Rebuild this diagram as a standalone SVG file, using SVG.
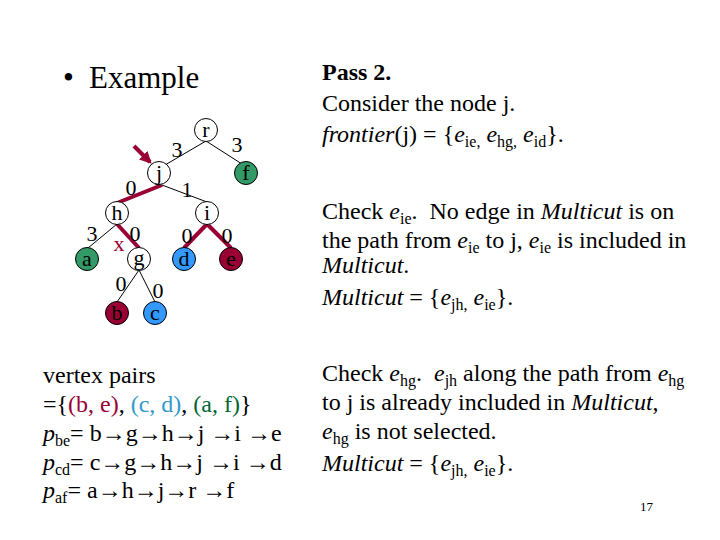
<svg xmlns="http://www.w3.org/2000/svg" width="720" height="540" viewBox="0 0 720 540">
<style>
text{font-family:"Liberation Serif","Times New Roman",serif;fill:#000}
.nl{font-size:22px;text-anchor:middle}
.el{font-size:22px;text-anchor:middle}
.t{font-size:24px}
.s{font-size:16px}
.n{fill:#fff;stroke:#000;stroke-width:1}
.g{fill:#339966}
.b{fill:#3399ff}
.m{fill:#990033}
.e{stroke:#000;stroke-width:1;fill:none}
.c{stroke:#990033;stroke-width:4;fill:none}
</style>
<defs>
<marker id="ah" viewBox="0 0 10 10" refX="8" refY="5" markerWidth="3" markerHeight="3" orient="auto"><path d="M0,0L10,5L0,10z" fill="#990033"/></marker>
</defs>
<rect width="720" height="540" fill="#fff"/>
<text x="63" y="88" style="font-size:31px">•</text>
<text x="89" y="88" style="font-size:31px">Example</text>
<g id="connectors">
<line class="e" x1="206" y1="141" x2="165" y2="165"/>
<line class="e" x1="206" y1="141" x2="242" y2="164"/>
<line class="c" x1="162" y1="185" x2="117" y2="203"/>
<line class="e" x1="162" y1="185" x2="207" y2="202"/>
<line class="e" x1="117" y1="224" x2="88" y2="248"/>
<line class="c" x1="117" y1="224" x2="139" y2="248"/>
<line class="c" x1="207" y1="224" x2="184" y2="248"/>
<line class="c" x1="207" y1="224" x2="231" y2="248"/>
<line class="e" x1="139" y1="270" x2="117" y2="302"/>
<line class="e" x1="139" y1="270" x2="155" y2="302"/>
<line x1="134" y1="146" x2="150" y2="162" stroke="#990033" stroke-width="4" marker-end="url(#ah)"/>
<text class="el" x="177" y="157">3</text>
<text class="el" x="237" y="152">3</text>
<text class="el" x="131" y="195">0</text>
<text class="el" x="187" y="197">1</text>
<text class="el" x="92" y="241">3</text>
<text class="el" x="135" y="241">0</text>
<text class="el" x="119" y="251" style="fill:#990033">x</text>
<text class="el" x="187" y="243">0</text>
<text class="el" x="227" y="243">0</text>
<text class="el" x="121" y="291">0</text>
<text class="el" x="158" y="298">0</text>
</g>
<g id="node-r"><circle class="n" cx="206" cy="130" r="11.5"/><text class="nl" x="206" y="137">r</text></g>
<g id="node-j"><circle class="n" cx="159" cy="173" r="11.5"/><text class="nl" x="159" y="180">j</text></g>
<g id="node-f"><circle class="n g" cx="246" cy="173" r="11.5"/><text class="nl" x="246" y="180">f</text></g>
<g id="node-h"><circle class="n" cx="117" cy="213" r="11.5"/><text class="nl" x="117" y="220">h</text></g>
<g id="node-i"><circle class="n" cx="207" cy="213" r="11.5"/><text class="nl" x="207" y="220">i</text></g>
<g id="node-a"><circle class="n g" cx="87" cy="259" r="11.5"/><text class="nl" x="87" y="266">a</text></g>
<g id="node-g"><circle class="n" cx="139" cy="259" r="11.5"/><text class="nl" x="139" y="265">g</text></g>
<g id="node-d"><circle class="n b" cx="184" cy="259" r="11.5"/><text class="nl" x="184" y="266">d</text></g>
<g id="node-e"><circle class="n m" cx="231" cy="259" r="11.5"/><text class="nl" x="231" y="266">e</text></g>
<g id="node-b"><circle class="n m" cx="117" cy="313" r="11.5"/><text class="nl" x="117" y="320">b</text></g>
<g id="node-c"><circle class="n b" cx="155" cy="313" r="11.5"/><text class="nl" x="155" y="320">c</text></g>
<text class="t" x="43" y="383">vertex pairs</text>
<text class="t" x="43" y="412">={<tspan style="fill:#990033">(b, e)</tspan>, <tspan style="fill:#3399cc">(c, d)</tspan>, <tspan style="fill:#006633">(a, f)</tspan>}</text>
<text class="t" x="43" y="441"><tspan font-style="italic">p</tspan><tspan class="s" dy="5">be</tspan><tspan dy="-5">= b→g→h→j →i →e</tspan></text>
<text class="t" x="43" y="470"><tspan font-style="italic">p</tspan><tspan class="s" dy="5">cd</tspan><tspan dy="-5">= c→g→h→j →i →d</tspan></text>
<text class="t" x="43" y="498"><tspan font-style="italic">p</tspan><tspan class="s" dy="5">af</tspan><tspan dy="-5">= a→h→j→r →f</tspan></text>
<text class="t" x="322" y="80" font-weight="bold">Pass 2.</text>
<text class="t" x="322" y="111">Consider the node j.</text>
<text class="t" x="322" y="142"><tspan font-style="italic">frontier</tspan>(j) = {<tspan font-style="italic">e</tspan><tspan class="s" dy="5">ie,</tspan><tspan dy="-5"> </tspan><tspan font-style="italic">e</tspan><tspan class="s" dy="5">hg,</tspan><tspan dy="-5"> </tspan><tspan font-style="italic">e</tspan><tspan class="s" dy="5">id</tspan><tspan dy="-5">}.</tspan></text>
<text class="t" x="322" y="219">Check <tspan font-style="italic">e</tspan><tspan class="s" dy="5">ie</tspan><tspan dy="-5">.&#160; No edge in </tspan><tspan font-style="italic">Multicut</tspan> is on</text>
<text class="t" x="322" y="248">the path from <tspan font-style="italic">e</tspan><tspan class="s" dy="5">ie</tspan><tspan dy="-5"> to j, </tspan><tspan font-style="italic">e</tspan><tspan class="s" dy="5">ie</tspan><tspan dy="-5"> is included in</tspan></text>
<text class="t" x="322" y="273"><tspan font-style="italic">Multicut</tspan>.</text>
<text class="t" x="322" y="305"><tspan font-style="italic">Multicut</tspan> = {<tspan font-style="italic">e</tspan><tspan class="s" dy="5">jh,</tspan><tspan dy="-5"> </tspan><tspan font-style="italic">e</tspan><tspan class="s" dy="5">ie</tspan><tspan dy="-5">}.</tspan></text>
<text class="t" x="322" y="381">Check <tspan font-style="italic">e</tspan><tspan class="s" dy="5">hg</tspan><tspan dy="-5">.&#160; </tspan><tspan font-style="italic">e</tspan><tspan class="s" dy="5">jh</tspan><tspan dy="-5"> along the path from </tspan><tspan font-style="italic">e</tspan><tspan class="s" dy="5">hg</tspan></text>
<text class="t" x="322" y="410">to j is already included in <tspan font-style="italic">Multicut</tspan>,</text>
<text class="t" x="322" y="439"><tspan font-style="italic">e</tspan><tspan class="s" dy="5">hg</tspan><tspan dy="-5"> is not selected.</tspan></text>
<text class="t" x="322" y="471"><tspan font-style="italic">Multicut</tspan> = {<tspan font-style="italic">e</tspan><tspan class="s" dy="5">jh,</tspan><tspan dy="-5"> </tspan><tspan font-style="italic">e</tspan><tspan class="s" dy="5">ie</tspan><tspan dy="-5">}.</tspan></text>
<text x="640" y="511" style="font-size:13px">17</text>
</svg>
